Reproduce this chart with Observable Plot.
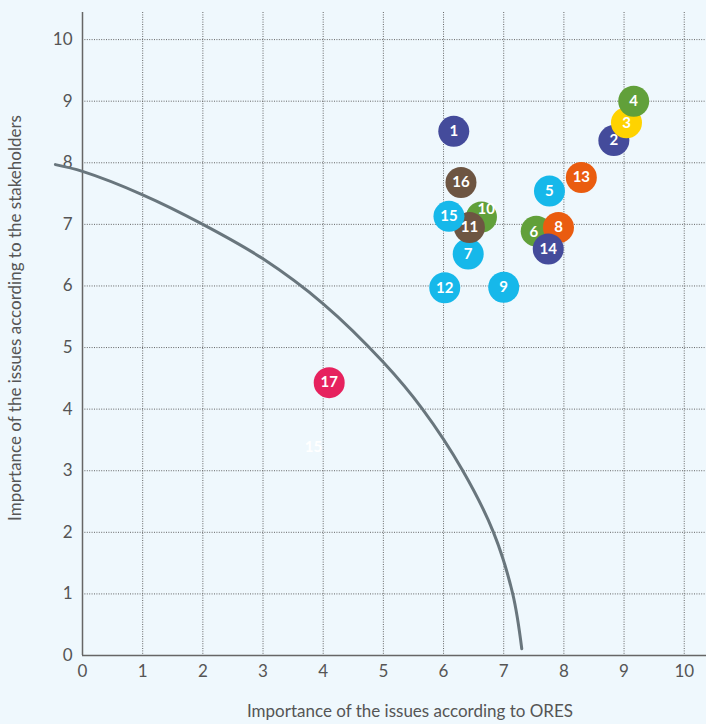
<!DOCTYPE html>
<html>
<head>
<meta charset="utf-8">
<script src="https://cdn.jsdelivr.net/npm/d3@7"></script>
<script src="https://cdn.jsdelivr.net/npm/@observablehq/plot@0.6"></script>
<style>
  html, body { margin: 0; padding: 0; background: #eff8fd; }
  #chart svg { display: block; }
</style>
</head>
<body>
<div id="chart"></div>
<script>
// Issues (points)
const ids    = ["1","2","3","4","5","6","7","8","9","10","11","12","13","14","15","16","17"];
const oresX  = [6.17, 8.83, 9.04, 9.16, 7.76, 7.54, 6.41, 7.91, 7.00, 6.63, 6.43, 6.02, 8.29, 7.74, 6.09, 6.29, 4.10];
const stakeY = [8.51, 8.36, 8.65, 9.00, 7.54, 6.89, 6.52, 6.95, 5.98, 7.12, 6.95, 5.97, 7.76, 6.60, 7.13, 7.68, 4.43];
const labelX = [6.17, 8.83, 9.04, 9.16, 7.76, 7.50, 6.41, 7.91, 7.00, 6.71, 6.43, 6.02, 8.29, 7.74, 6.09, 6.29, 4.10];
const labelY = [8.51, 8.36, 8.65, 9.00, 7.54, 6.87, 6.52, 6.95, 5.98, 7.24, 6.95, 5.97, 7.76, 6.60, 7.13, 7.68, 4.43];
const colors = ["#444b9b", "#444b9b", "#ffd300", "#61a03a", "#16b8ea", "#61a03a", "#16b8ea", "#ea5c0f",
                "#16b8ea", "#61a03a", "#6d5542", "#16b8ea", "#ea5c0f", "#444b9b", "#16b8ea", "#6d5542", "#e6225e"];

// faint white label with no dot
const ghostLabel = ["15"];
const ghostX = [3.84];
const ghostY = [3.39];

// Threshold curve
const curveX = [-0.45, 0, 1, 2, 3, 4, 5, 5.65, 6.32, 6.83, 7.15, 7.30];
const curveY = [7.97, 7.86, 7.48, 7.00, 6.44, 5.71, 4.76, 4.00, 3.00, 2.00, 1.00, 0.11];

const xTicks = [0,1,2,3,4,5,6,7,8,9,10];
const yTicks = [0,1,2,3,4,5,6,7,8,9,10];

const points = ids.map((id, i) => ({id, x: oresX[i], y: stakeY[i], lx: labelX[i], ly: labelY[i], color: colors[i]}));
const ghosts = ghostLabel.map((t, i) => ({t, x: ghostX[i], y: ghostY[i]}));
const curve = curveX.map((x, i) => ({x, y: curveY[i]}));

const W = 706, H = 724;
const plot = Plot.plot({
  width: W,
  height: H,
  marginLeft: 82,
  marginRight: 0,
  marginTop: 12,
  marginBottom: 69,
  style: {background: "#eff8fd", fontFamily: "Lato, sans-serif", fontSize: "17px", color: "#555"},
  x: {domain: [0, 10.37], ticks: xTicks, label: null},
  y: {domain: [0, 10.44], ticks: yTicks, label: null},
  marks: [
    Plot.ruleX(xTicks.slice(1), {stroke: "#555", strokeWidth: 1, strokeDasharray: "1,1.4", strokeOpacity: 0.9}),
    Plot.ruleY(yTicks.slice(1), {stroke: "#555", strokeWidth: 1, strokeDasharray: "1,1.4", strokeOpacity: 0.9}),
    Plot.ruleX([0], {stroke: "#666", strokeWidth: 1.5}),
    Plot.ruleY([0], {stroke: "#666", strokeWidth: 1.5}),
    Plot.axisX({ticks: xTicks, tickSize: 0, tickPadding: 9, fontSize: 17, color: "#555", label: null}),
    Plot.axisY({ticks: yTicks, tickSize: 0, tickPadding: 10, fontSize: 17, color: "#555", label: null}),
    Plot.line(curve, {x: "x", y: "y", curve: "catmull-rom", stroke: "#69767d", strokeWidth: 3}),
    Plot.dot(points, {x: "x", y: "y", r: 15.5, fill: "color", stroke: "none"}),
    Plot.text(points, {x: "lx", y: "ly", text: "id", fill: "white", fontSize: 15, fontWeight: "bold"}),
    Plot.text(ghosts, {x: "x", y: "y", text: "t", fill: "white", fontSize: 15, fontWeight: "bold"})
  ]
});

const svg = d3.select(plot);
svg.append("text")
  .attr("x", 410).attr("y", 713)
  .attr("text-anchor", "middle")
  .attr("dominant-baseline", "middle")
  .attr("fill", "#555")
  .style("font-family", "Lato, sans-serif")
  .style("font-size", "17px")
  .text("Importance of the issues according to ORES");
svg.append("text")
  .attr("transform", "translate(17,318) rotate(-90)")
  .attr("text-anchor", "middle")
  .attr("dominant-baseline", "middle")
  .attr("fill", "#555")
  .style("font-family", "Lato, sans-serif")
  .style("font-size", "17px")
  .text("Importance of the issues according to the stakeholders");

document.getElementById("chart").appendChild(plot);
</script>
</body>
</html>
